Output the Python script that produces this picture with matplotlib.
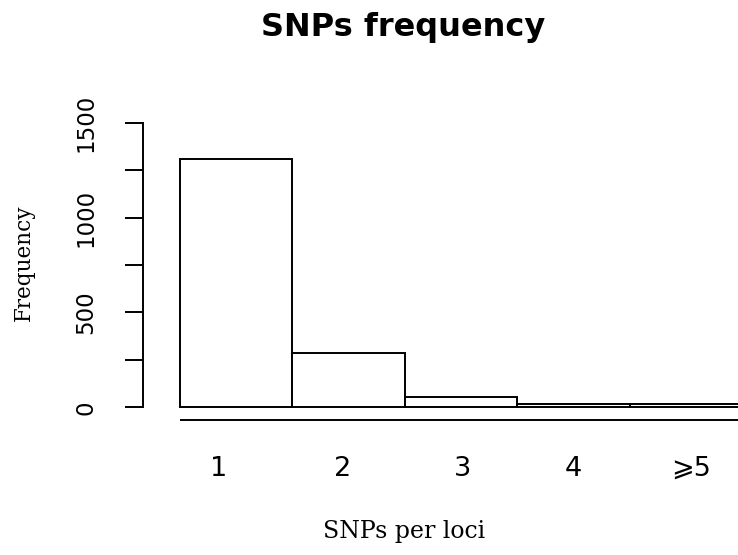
import matplotlib
matplotlib.use("Agg")
import matplotlib.pyplot as plt
from matplotlib.ticker import MultipleLocator

# data
categories = ["1", "2", "3", "4", "\u2a7e5"]
counts = [1309, 288, 56, 18, 16]
label_pos = [0.34, 1.45, 2.51, 3.50, 4.55]  # tick label positions (bar units)
yticks_major = 500
yticks_minor = 250

LW = 1.4

fig = plt.figure(figsize=(7.38, 5.55), dpi=100)
# axes box in pixels: x 143..738, y 100..430 (from top)
ax = fig.add_axes([143.3 / 738, 125 / 555, (738 - 143.3) / 738, 330 / 555])

ax.bar(range(len(counts)), counts, width=1.0, align="edge",
       facecolor="white", edgecolor="black", linewidth=LW)
ax.hlines(-67, 0, len(counts), color="black", linewidth=LW)

ax.set_xlim(-0.3265, 4.964)
ax.set_ylim(-119.7, 1620)

for s in ["top", "right", "bottom"]:
    ax.spines[s].set_visible(False)
ax.spines["left"].set_bounds(0, 1500)
ax.spines["left"].set_linewidth(LW)

ax.yaxis.set_major_locator(MultipleLocator(yticks_major))
ax.yaxis.set_minor_locator(MultipleLocator(yticks_minor))
ax.tick_params(axis="y", which="both", direction="out", length=13, width=LW)
ax.tick_params(axis="y", which="major", labelsize=16.5, pad=20, labelrotation=90)
for t in ax.get_yticklabels():
    t.set_va("center")
    t.set_family("DejaVu Sans")

ax.set_xticks(label_pos)
ax.set_xticklabels(categories, family="DejaVu Sans")
ax.tick_params(axis="x", length=0, labelsize=19.5, pad=18.5)

fig.text(403 / 738, 1 - 35.7 / 555, "SNPs frequency", ha="center", va="baseline",
         fontsize=23, fontweight="bold", family="DejaVu Sans")
fig.text(404 / 738, 1 - 538 / 555, "SNPs per loci", ha="center", va="baseline",
         fontsize=17, family="DejaVu Serif")
fig.text(24 / 738, 1 - 262.5 / 555, "Frequency", ha="center", va="center",
         rotation=90, fontsize=15.5, family="DejaVu Serif")

fig.savefig("out.png", dpi=100)
